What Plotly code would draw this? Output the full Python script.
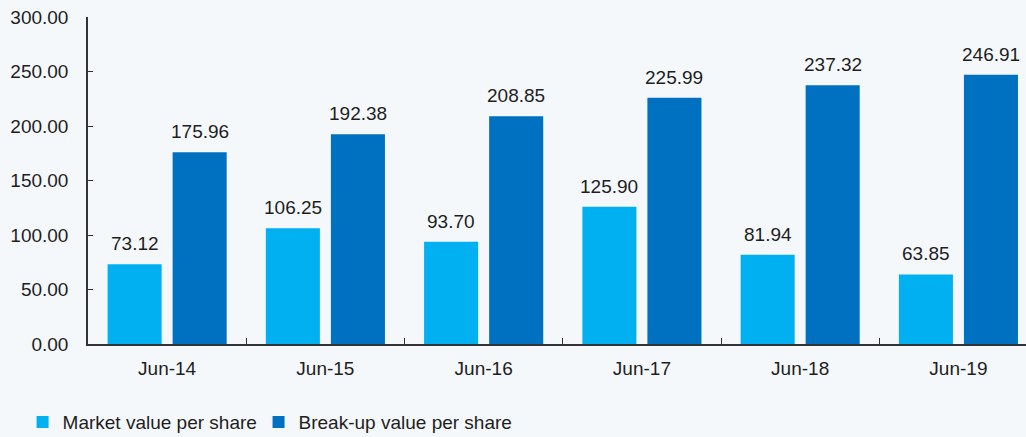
import plotly.graph_objects as go

categories = ["Jun-14", "Jun-15", "Jun-16", "Jun-17", "Jun-18", "Jun-19"]
market_value = [73.12, 106.25, 93.70, 125.90, 81.94, 63.85]
breakup_value = [175.96, 192.38, 208.85, 225.99, 237.32, 246.91]
y_ticks = [0, 50, 100, 150, 200, 250, 300]

LIGHT = "#00B0F0"
DARK = "#0070C0"
TXT = "#1e1e1e"
FONT = "Liberation Sans, Arial, sans-serif"
FS = 19

fig = go.Figure()
fig.add_trace(go.Bar(x=categories, y=market_value, name="Market value per share",
                     marker=dict(color=LIGHT, line=dict(width=0)), offsetgroup="a",
                     legend="legend"))
fig.add_trace(go.Bar(x=categories, y=breakup_value, name="Break-up value per share",
                     marker=dict(color=DARK, line=dict(width=0)), offsetgroup="b",
                     legend="legend2"))

# data labels above bars
for i, c in enumerate(categories):
    for off, vals in ((-0.205, market_value), (0.205, breakup_value)):
        fig.add_annotation(x=i + off, y=vals[i], xref="x", yref="y",
                           text=f"{vals[i]:.2f}", showarrow=False,
                           yanchor="bottom", yshift=8,
                           font=dict(size=FS, color=TXT, family=FONT))

legend_common = dict(orientation="h", xanchor="left", xref="container",
                     y=0.034, yanchor="middle", yref="container",
                     font=dict(size=FS, color=TXT, family=FONT),
                     bgcolor="rgba(0,0,0,0)")

fig.update_layout(
    width=1026, height=437,
    margin=dict(l=88, r=0, t=17, b=93),
    paper_bgcolor="#F5F8FB", plot_bgcolor="rgba(0,0,0,0)",
    barmode="group", bargap=0.178, bargroupgap=0.169,
    font=dict(family=FONT, size=FS, color=TXT),
    showlegend=True,
    legend=dict(x=0.022, **legend_common),
    legend2=dict(x=0.252, **legend_common),
)
fig.update_xaxes(
    type="category", range=[-0.5, 5.427], showline=True, linecolor="#333333", linewidth=1.5,
    ticks="inside", ticklen=6, tickcolor="#333333", tickson="boundaries",
    showgrid=False, zeroline=False, tickfont=dict(size=FS, color=TXT, family=FONT),
    ticklabelstandoff=6,
)
fig.update_yaxes(
    range=[0, 300], tickvals=y_ticks, ticktext=[f"{v:.2f}" for v in y_ticks],
    showline=True, linecolor="#333333", linewidth=1.5,
    ticks="inside", ticklen=5, tickcolor="#333333",
    showgrid=False, zeroline=False, tickfont=dict(size=FS, color=TXT, family=FONT),
    ticklabelstandoff=14,
)

fig.write_html("out.html", config={"displayModeBar": False},
               post_script="document.body.style.margin='0';document.body.style.overflow='hidden';")
